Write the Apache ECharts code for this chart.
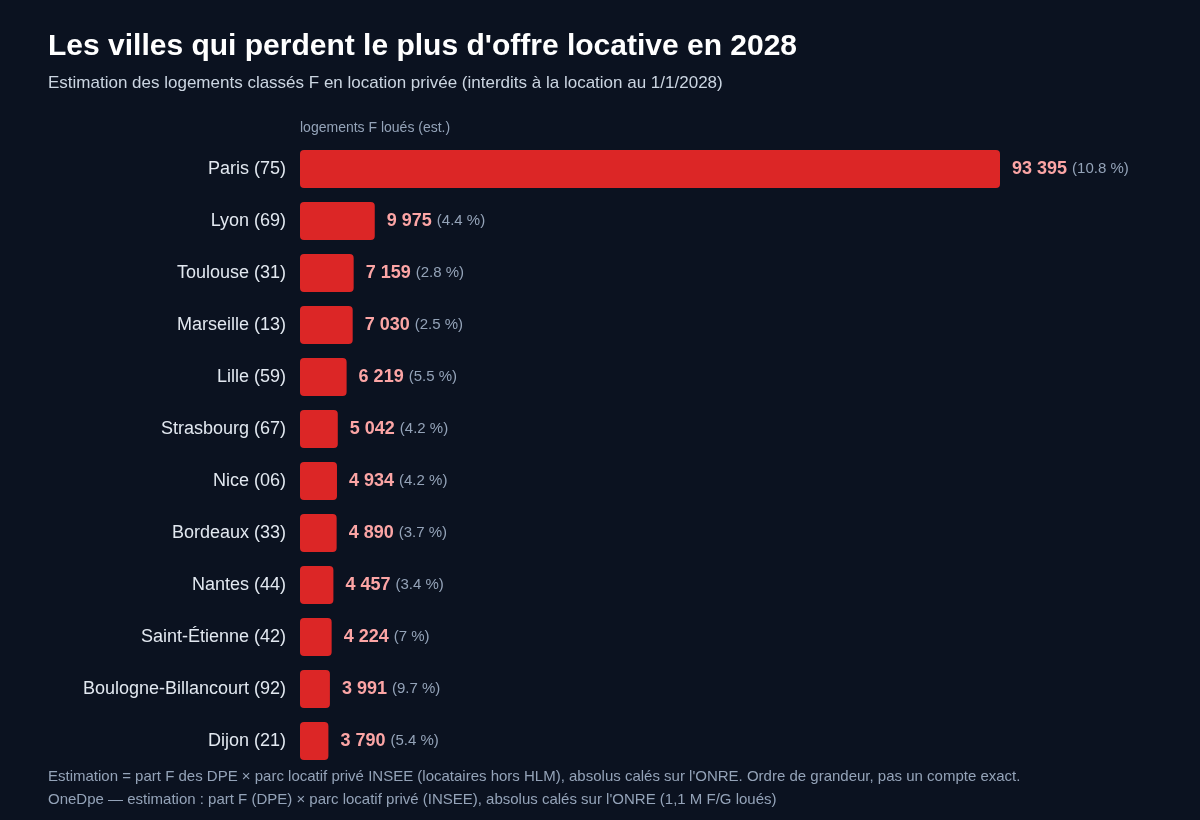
<!DOCTYPE html>
<html>
<head>
<meta charset="utf-8">
<title>Offre locative perdue en 2028</title>
<script src="https://cdn.jsdelivr.net/npm/echarts@6/dist/echarts.min.js"></script>
<style>
	html, body { margin: 0; padding: 0; background: #0b1220; }
	#chart { width: 1200px; height: 820px; }
</style>
</head>
<body>
<div id="chart"></div>
<script>
// villes, du plus grand au plus petit
var cities = ['Paris (75)', 'Lyon (69)', 'Toulouse (31)', 'Marseille (13)', 'Lille (59)',
	'Strasbourg (67)', 'Nice (06)', 'Bordeaux (33)', 'Nantes (44)', 'Saint-Étienne (42)',
	'Boulogne-Billancourt (92)', 'Dijon (21)'];
// logements F loués (estimation)
var rentedF = [93395, 9975, 7159, 7030, 6219, 5042, 4934, 4890, 4457, 4224, 3991, 3790];
// part du parc locatif privé (%)
var shareF = [10.8, 4.4, 2.8, 2.5, 5.5, 4.2, 4.2, 3.7, 3.4, 7, 9.7, 5.4];

var FONT = '"Liberation Sans", Arial, sans-serif';

// 93395 -> "93 395"
function fmt(n){
	return String(n).replace(/\B(?=(\d{3})+(?!\d))/g, ' ');
}

var myChart = echarts.init(document.getElementById('chart'));

var option = {
	backgroundColor: '#0b1220',
	textStyle: { fontFamily: FONT },
	title: [{
		text: "Les villes qui perdent le plus d'offre locative en 2028",
		left: 48, top: 32, padding: 0,
		textStyle: { color: '#ffffff', fontSize: 30, fontWeight: 'bold', fontFamily: FONT }
	}, {
		text: 'Estimation des logements classés F en location privée (interdits à la location au 1/1/2028)',
		left: 48, top: 75, padding: 0,
		textStyle: { color: '#cbd5e1', fontSize: 17, fontWeight: 'normal', fontFamily: FONT }
	}, {
		text: 'logements F loués (est.)',
		left: 300, top: 121, padding: 0,
		textStyle: { color: '#94a3b8', fontSize: 14, fontWeight: 'normal', fontFamily: FONT }
	}, {
		text: "Estimation = part F des DPE × parc locatif privé INSEE (locataires hors HLM), absolus calés sur l'ONRE. Ordre de grandeur, pas un compte exact.",
		left: 48, top: 769, padding: 0,
		textStyle: { color: '#94a3b8', fontSize: 15, fontWeight: 'normal', fontFamily: FONT }
	}, {
		text: "OneDpe — estimation : part F (DPE) × parc locatif privé (INSEE), absolus calés sur l'ONRE (1,1 M F/G loués)",
		left: 48, top: 792, padding: 0,
		textStyle: { color: '#94a3b8', fontSize: 15, fontWeight: 'normal', fontFamily: FONT }
	}],
	grid: { left: 300, right: 200, top: 143, bottom: 53 },
	xAxis: {
		type: 'value',
		min: 0,
		max: 'dataMax',
		show: false
	},
	yAxis: {
		type: 'category',
		data: cities,
		inverse: true,
		axisLine: { show: false },
		axisTick: { show: false },
		axisLabel: { color: '#e2e8f0', fontSize: 18, margin: 14, fontFamily: FONT }
	},
	series: [{
		type: 'bar',
		data: rentedF,
		barWidth: '73%',
		itemStyle: { color: '#dc2626', borderRadius: 4 },
		label: {
			show: true,
			position: 'right',
			distance: 12,
			formatter: function(p){
				return '{v|' + fmt(p.value) + '}{s| }{p|(' + shareF[p.dataIndex] + ' %)}';
			},
			rich: {
				v: { color: '#fca5a5', fontSize: 18, fontWeight: 'bold', fontFamily: FONT },
				s: { fontSize: 18, fontFamily: FONT },
				p: { color: '#94a3b8', fontSize: 15, fontFamily: FONT }
			}
		}
	}]
};

myChart.setOption(option);
</script>
</body>
</html>
